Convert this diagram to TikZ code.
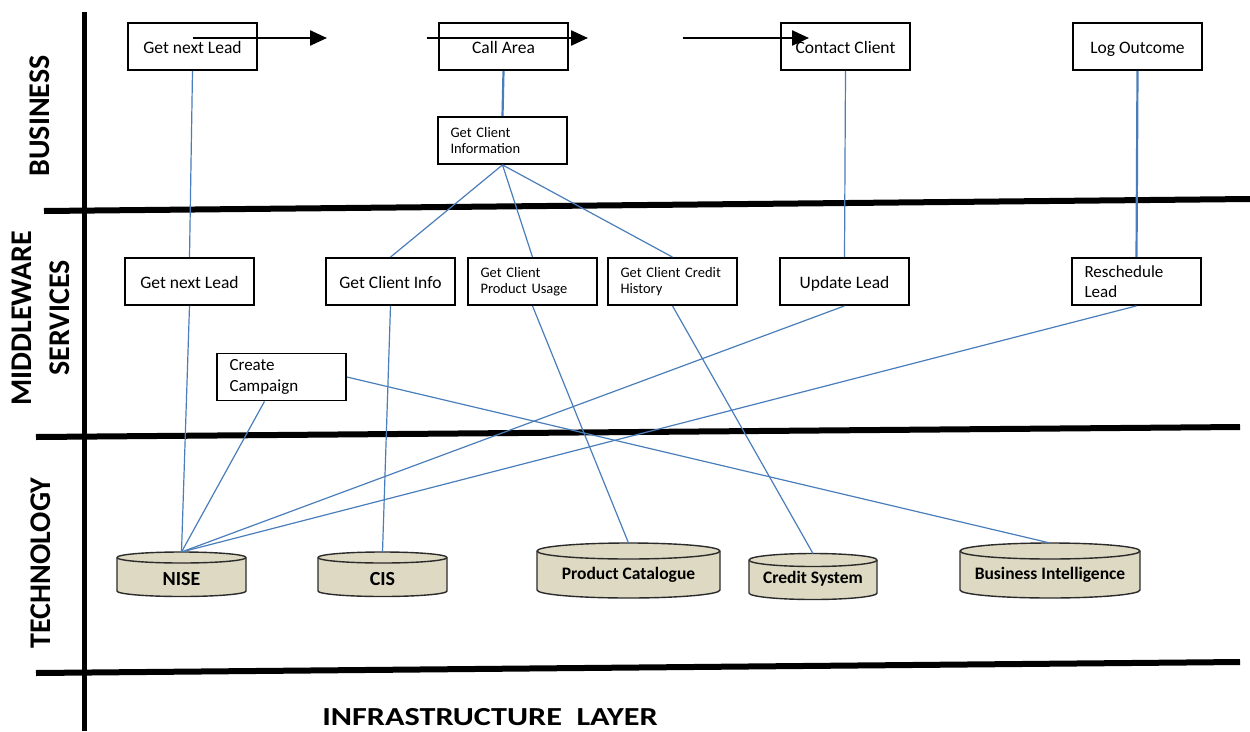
\documentclass[tikz,border=0pt]{standalone}
\usepackage{fontspec}
\usepackage{graphicx}
\setmainfont{Carlito}
\usetikzlibrary{arrows.meta,calc}
\definecolor{conn}{HTML}{4A7EBB}
\definecolor{dbfill}{HTML}{DDD9C3}
\definecolor{dbline}{HTML}{2B2B2B}

% \dbcyl{name}{cx}{top centre y}{bottom centre y}{half width}{ry}{font size}{text}{text y}
\newcommand{\dbcyl}[9]{%
  \path[fill=dbfill,draw=dbline,line width=1.4pt]
    (#2-#5,#3) -- (#2-#5,#4) arc[start angle=180,end angle=0,x radius=#5,y radius=#6]
    -- (#2+#5,#3) arc[start angle=0,end angle=-180,x radius=#5,y radius=#6] -- cycle;
  \draw[dbline,line width=1.4pt] (#2-#5,#3) arc[start angle=180,end angle=0,x radius=#5,y radius=#6];
  \coordinate (#1) at (#2,#3-#6);
  \node[font=\bfseries\fontsize{#7}{#7}\selectfont,inner sep=0pt] (#1txt) at (#2,#9) {#8};
}

\begin{document}
\begin{tikzpicture}[x=1pt,y=-1pt,
  boxbase/.style={draw=black,line width=1.8pt,minimum width=129pt,minimum height=47pt,
    inner sep=0pt,fill=white},
  procbox/.style={boxbase,font=\fontsize{17.5}{20}\selectfont,text height=16pt,text depth=3pt},
  procsmall/.style={boxbase,align=left,text width=104pt,font=\fontsize{14.5}{16.5}\selectfont},
  procleft/.style={boxbase,align=left,text width=104pt,font=\fontsize{17}{20.5}\selectfont},
  link/.style={draw=conn,line width=1.2pt},
  linkthick/.style={draw=conn,line width=2.2pt},
  layer/.style={line width=6pt,black},
  flow/.style={line width=2.4pt,black,-{Triangle[length=17pt,width=15pt]}},
  lbl/.style={font=\bfseries\fontsize{30}{32}\selectfont,rotate=90,inner sep=0pt}
]
\useasboundingbox (0,0) rectangle (1250,731);
\fill[white] (0,0) rectangle (1250,731);

% layer lines
\draw[line width=5pt,black] (84,12) -- (84,731);
\draw[layer] (44,211) -- (1250,199);
\draw[layer] (36,437) -- (1240,427);
\draw[layer] (36,673) -- (1240,662);

% layer labels
\node[lbl] (lbus) at (40,116) {BUSINESS};
\node[lbl] (lmid) at (22,318) {MIDDLEWARE};
\node[lbl] (lser) at (60,318) {SERVICES};
\node[lbl] (ltec) at (41,563) {TECHNOLOGY};
\node[font=\bfseries\fontsize{26}{28}\selectfont,inner sep=0pt] (linf) at (490,717)
  {\scalebox{1.24}[1]{INFRASTRUCTURE\ \ LAYER}};

% business boxes
\node[procbox] (bgnl) at (192.5,46.5) {Get next Lead};
\node[procbox] (bca)  at (503.5,46.5) {Call Area};
\node[procbox] (bcc)  at (845.5,46.5) {Contact Client};
\node[procbox] (blo)  at (1137.5,46.5) {Log Outcome};
\node[procsmall] (bgci) at (502.5,140.5) {Get Client\\Information};

% middleware boxes
\node[procbox] (mgnl) at (189.5,281.5) {Get next Lead};
\node[procbox] (mgci) at (390.5,281.5) {Get Client Info};
\node[procsmall] (mgpu) at (532.5,281.5) {Get Client\\Product Usage};
\node[procsmall] (mgch) at (672.5,281.5) {Get Client Credit\\History};
\node[procbox] (mul)  at (844.5,281.5) {Update Lead};
\node[procleft] (mrl) at (1136.5,281.5) {Reschedule\\Lead};
\node[procleft] (mcc) at (281.5,377) {Create\\Campaign};

% databases
\dbcyl{nise}{181.5}{557.5}{591}{64.5}{5.5}{20}{NISE}{579}
\dbcyl{cis}{382.5}{557.5}{591}{64.5}{5.5}{20}{CIS}{579}
\dbcyl{pc}{628.5}{551}{590}{91.5}{8}{17.5}{Product Catalogue}{575}
\dbcyl{cs}{813}{560}{593}{64}{6.5}{17.5}{Credit System}{579}
\dbcyl{bi}{1050}{551}{590}{90}{8}{17.5}{Business Intelligence}{575}

% connectors
\draw[link] (bgnl.south) -- (mgnl.north);
\draw[linkthick] (bca.south) -- (bgci.north);
\draw[link] (bcc.south) -- (mul.north);
\draw[linkthick] (blo.south) -- (mrl.north);
\draw[link] (bgci.south) -- (mgci.north);
\draw[link] (bgci.south) -- (mgpu.north);
\draw[link] (bgci.south) -- (mgch.north);
\draw[link] (mgnl.south) -- (nise);
\draw[link] ($(mcc.south west)!0.37!(mcc.south east)$) -- (nise);
\draw[link] (mul.south) -- (nise);
\draw[link] (mrl.south) -- (nise);
\draw[link] (mgci.south) -- (cis);
\draw[link] (mgpu.south) -- (pc);
\draw[link] (mgch.south) -- (cs);
\draw[link] (mcc.east) -- (bi);

% flow arrows
\coordinate (f1s) at (193,38);
\coordinate (f1e) at (327,38);
\coordinate (f2s) at (427,38);
\coordinate (f2e) at (588,38);
\coordinate (f3s) at (683,38);
\coordinate (f3e) at (809,38);
\draw[flow] (f1s) -- (f1e);
\draw[flow] (f2s) -- (f2e);
\draw[flow] (f3s) -- (f3e);
\end{tikzpicture}
\end{document}
